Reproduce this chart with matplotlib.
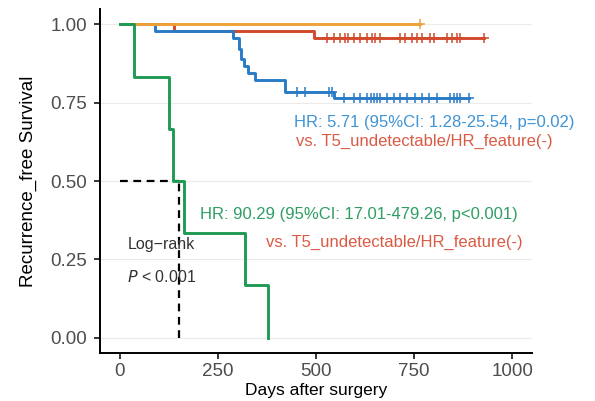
import matplotlib
matplotlib.use("Agg")
import matplotlib.pyplot as plt
import numpy as np
from matplotlib import rcParams

rcParams["font.family"] = ["Liberation Sans", "DejaVu Sans"]

# Kaplan-Meier step data (time in days, survival)
green_t = [0, 36, 125, 137, 163, 320, 379]
green_s = [1.0, 0.833, 0.667, 0.5, 0.333, 0.167, 0.0]

orange_t = [0, 766]
orange_s = [1.0, 1.0]
orange_cens = [766]

red_t = [0, 138, 494, 927]
red_s = [1.0, 0.978, 0.956, 0.956]
red_cens = [528, 545, 561, 575, 581, 596, 613, 630, 643, 651, 664, 715, 728,
            745, 757, 770, 791, 800, 834, 846, 859, 868, 927]

blue_t = [0, 89, 290, 303, 310, 316, 326, 346, 422, 545, 889]
blue_s = [1.0, 0.978, 0.956, 0.923, 0.890, 0.868, 0.846, 0.824, 0.785, 0.766, 0.766]
blue_cens = [452, 473, 533, 541, 571, 596, 613, 630, 639, 647, 656, 664, 681,
             698, 715, 732, 753, 770, 787, 808, 842, 851, 859, 868, 889]

median_green = 150

x_ticks = [0, 250, 500, 750, 1000]
y_ticks = [0.0, 0.25, 0.5, 0.75, 1.0]

c_orange = "#EFA13A"
c_red = "#D2492C"
c_blue = "#2A7BC6"
c_green = "#1E9A52"
c_red_txt = "#DA5A44"
c_blue_txt = "#3F94D6"
c_green_txt = "#2E9E62"


def surv_at(times, t, s):
    idx = np.searchsorted(t, times, side="right") - 1
    return np.asarray(s)[idx]


fig = plt.figure(figsize=(5.95, 4.01), dpi=100)
ax = fig.add_axes([0.168, 0.119, 0.726, 0.859])

for yv in y_ticks:
    ax.axhline(yv, color="#EBEBEB", linewidth=0.8, zorder=0)

ax.plot([0, median_green], [0.5, 0.5], color="black", linestyle=(0, (3.5, 2.5)),
        linewidth=1.6, zorder=1)
ax.plot([median_green, median_green], [0, 0.5], color="black",
        linestyle=(0, (3.5, 2.5)), linewidth=1.6, zorder=1)

# drawing order: red under blue under orange, green on top
curves = [
    (red_t, red_s, red_cens, c_red),
    (blue_t, blue_s, blue_cens, c_blue),
    (orange_t, orange_s, orange_cens, c_orange),
    (green_t, green_s, [], c_green),
]
for z, (t, s, cens, col) in enumerate(curves):
    ax.step(t, s, where="post", color=col, linewidth=2.1, zorder=3 + z)
    if cens:
        ax.plot(cens, surv_at(cens, t, s), linestyle="none", marker="+",
                markersize=6.5, markeredgewidth=1.1, color=col, zorder=3 + z)

ax.text(443, 0.686, "HR: 5.71 (95%CI: 1.28-25.54, p=0.02)", color=c_blue_txt,
        fontsize=12, va="center", ha="left")
ax.text(448, 0.626, "vs. T5_undetectable/HR_feature(-)", color=c_red_txt,
        fontsize=12, va="center", ha="left")
ax.text(206, 0.393, "HR: 90.29 (95%CI: 17.01-479.26, p<0.001)", color=c_green_txt,
        fontsize=12, va="center", ha="left")
ax.text(372, 0.303, "vs. T5_undetectable/HR_feature(-)", color=c_red_txt,
        fontsize=12, va="center", ha="left")
ax.text(20, 0.297, "Log\u2212rank", color="#333333", fontsize=11.5,
        va="center", ha="left")
ax.text(20, 0.195, "$\\it{P}$ < 0.001", color="#333333", fontsize=11.5,
        va="center", ha="left")

ax.set_xlim(-50, 1050)
ax.set_ylim(-0.05, 1.05)
ax.set_xticks(x_ticks)
ax.set_yticks(y_ticks)
ax.set_yticklabels([f"{v:.2f}" for v in y_ticks])

for side in ["top", "right"]:
    ax.spines[side].set_visible(False)
for side in ["left", "bottom"]:
    ax.spines[side].set_linewidth(1.4)
ax.tick_params(axis="both", direction="out", length=4, width=1.1,
               labelsize=13.5, labelcolor="#4D4D4D", pad=3)
ax.tick_params(axis="y", pad=5)

ax.set_xlabel("Days after surgery", fontsize=12.5, labelpad=2)
ax.set_ylabel("Recurrence_free Survival", fontsize=13.5, labelpad=10)

fig.savefig("out.png", dpi=100)
